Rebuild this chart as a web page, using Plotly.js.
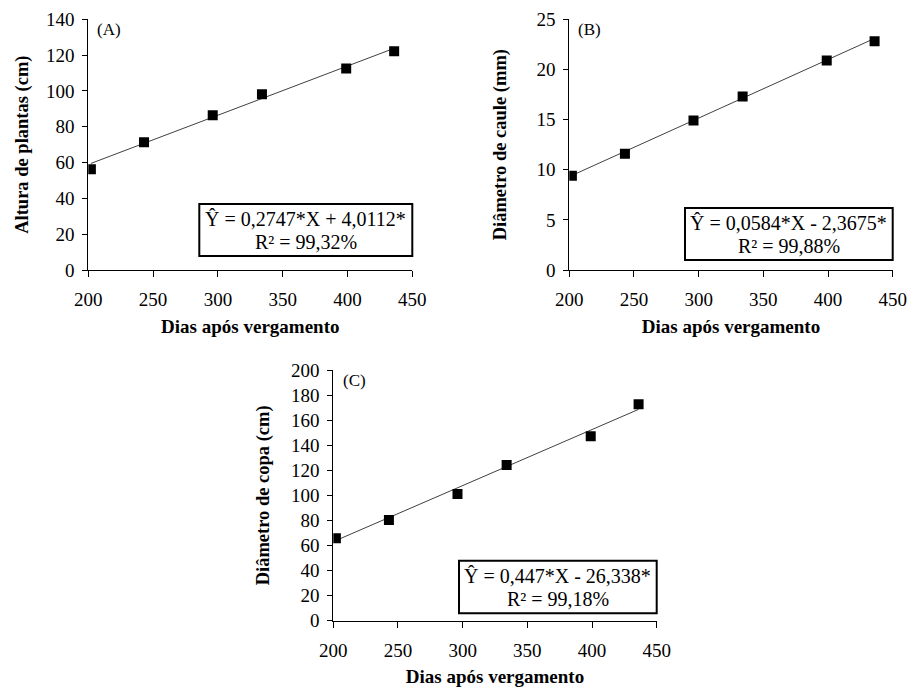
<!DOCTYPE html>
<html>
<head>
<meta charset="utf-8">
<script src="https://cdn.plot.ly/plotly-3.0.1.min.js"></script>
<style>html,body{margin:0;padding:0;background:#fff;}</style>
</head>
<body>
<div id="chart" style="width:913px;height:690px;"></div>
<script>
// ---- data ----
const days = [202, 243, 296, 334, 399, 436];
const plantHeight = [56.3, 71.4, 86.4, 98.2, 112.5, 122.1];     // (A) cm
const stemDiameter = [9.4, 11.6, 14.9, 17.3, 20.9, 22.8];       // (B) mm
const canopyDiameter = [65.7, 80.3, 101.1, 124.2, 147.1, 172.6]; // (C) cm

const trendX = [202, 436];
const trendA = [59.5, 123.8];
const trendB = [9.43, 23.09];
const trendC = [63.96, 168.6];

const xTicks = [200, 250, 300, 350, 400, 450];
const yTicksA = [0, 20, 40, 60, 80, 100, 120, 140];
const yTicksB = [0, 5, 10, 15, 20, 25];
const yTicksC = [0, 20, 40, 60, 80, 100, 120, 140, 160, 180, 200];

const xTitle = "Dias após vergamento";
const yTitleA = "Altura de plantas (cm)";
const yTitleB = "Diâmetro de caule (mm)";
const yTitleC = "Diâmetro de copa (cm)";
const eqA = ["Ŷ = 0,2747*X + 4,0112*", "R² = 99,32%"];
const eqB = ["Ŷ = 0,0584*X - 2,3675*", "R² = 99,88%"];
const eqC = ["Ŷ = 0,447*X - 26,338*", "R² = 99,18%"];

// ---- layout helpers ----
const W = 913, H = 690;
const px = x => x / W;
const py = y => 1 - y / H;
const FONT = "Liberation Serif, Times New Roman, serif";

function markers(x, y, xa, ya) {
  return {x: x, y: y, xaxis: xa, yaxis: ya, type: 'scatter', mode: 'markers',
    marker: {symbol: 'square', size: 10, color: '#000'}, showlegend: false, hoverinfo: 'x+y'};
}
function trend(x, y, xa, ya) {
  return {x: x, y: y, xaxis: xa, yaxis: ya, type: 'scatter', mode: 'lines',
    line: {color: '#404040', width: 1}, showlegend: false, hoverinfo: 'skip'};
}
function xAxis(dom, anchor) {
  return {domain: dom, anchor: anchor, range: [200, 450], tickvals: xTicks, ticktext: xTicks.map(String),
    showline: true, linecolor: '#000', linewidth: 1, ticks: 'outside', ticklen: 6, tickcolor: '#000',
    showgrid: false, zeroline: false, tickfont: {family: FONT, size: 19, color: '#000'},
    ticklabelstandoff: 6,
    title: {text: '<b>' + xTitle + '</b>', font: {family: FONT, size: 19, color: '#000'}, standoff: 10}};
}
function yAxis(dom, anchor, range, ticks, title, standoff) {
  return {domain: dom, anchor: anchor, range: range, tickvals: ticks, ticktext: ticks.map(String),
    showline: true, linecolor: '#000', linewidth: 1, ticks: 'outside', ticklen: 5, tickcolor: '#000',
    showgrid: false, zeroline: false, tickfont: {family: FONT, size: 19, color: '#000'},
    ticklabelstandoff: 4,
    title: {text: '<b>' + title + '</b>', font: {family: FONT, size: 18.5, color: '#000'}, standoff: standoff}};
}
function box(x0, y0, x1, y1) {
  return {type: 'rect', xref: 'paper', yref: 'paper', x0: px(x0), x1: px(x1), y0: py(y1), y1: py(y0),
    line: {color: '#000', width: 2}, fillcolor: 'rgba(0,0,0,0)'};
}
function label(text, x, y, size, xanchor) {
  return {text: text, xref: 'paper', yref: 'paper', x: px(x), y: py(y), showarrow: false,
    xanchor: xanchor || 'center', yanchor: 'middle', font: {family: FONT, size: size, color: '#000'}};
}

const data = [
  trend(trendX, trendA, 'x', 'y'),
  markers(days, plantHeight, 'x', 'y'),
  trend(trendX, trendB, 'x2', 'y2'),
  markers(days, stemDiameter, 'x2', 'y2'),
  trend(trendX, trendC, 'x3', 'y3'),
  markers(days, canopyDiameter, 'x3', 'y3')
];

const layout = {
  width: W, height: H,
  margin: {l: 0, r: 0, t: 0, b: 0},
  paper_bgcolor: '#fff', plot_bgcolor: '#fff',
  font: {family: FONT, color: '#000'},
  xaxis: xAxis([px(88.3), px(412.3)], 'y'),
  yaxis: yAxis([py(270), py(19.3)], 'x', [0, 140], yTicksA, yTitleA, 12),
  xaxis2: xAxis([px(569.3), px(892.7)], 'y2'),
  yaxis2: yAxis([py(270), py(19.3)], 'x2', [0, 25], yTicksB, yTitleB, 25),
  xaxis3: xAxis([px(333.3), px(656.7)], 'y3'),
  yaxis3: yAxis([py(620.7), py(370)], 'x3', [0, 200], yTicksC, yTitleC, 16),
  shapes: [
    box(199.3, 204, 412.3, 256),
    box(685, 208, 892.7, 260),
    box(459, 560.7, 656.7, 613.3)
  ],
  annotations: [
    label('(A)', 95, 30, 17, 'left'),
    label('(B)', 576, 29, 17, 'left'),
    label('(C)', 341, 380, 17, 'left'),
    label(eqA[0], 305.8, 219, 20), label(eqA[1], 305.8, 242, 20),
    label(eqB[0], 788.9, 223, 20), label(eqB[1], 788.9, 246, 20),
    label(eqC[0], 557.9, 576, 20), label(eqC[1], 557.9, 599, 20)
  ]
};

Plotly.newPlot('chart', data, layout, {displayModeBar: false, staticPlot: true});
</script>
</body>
</html>
